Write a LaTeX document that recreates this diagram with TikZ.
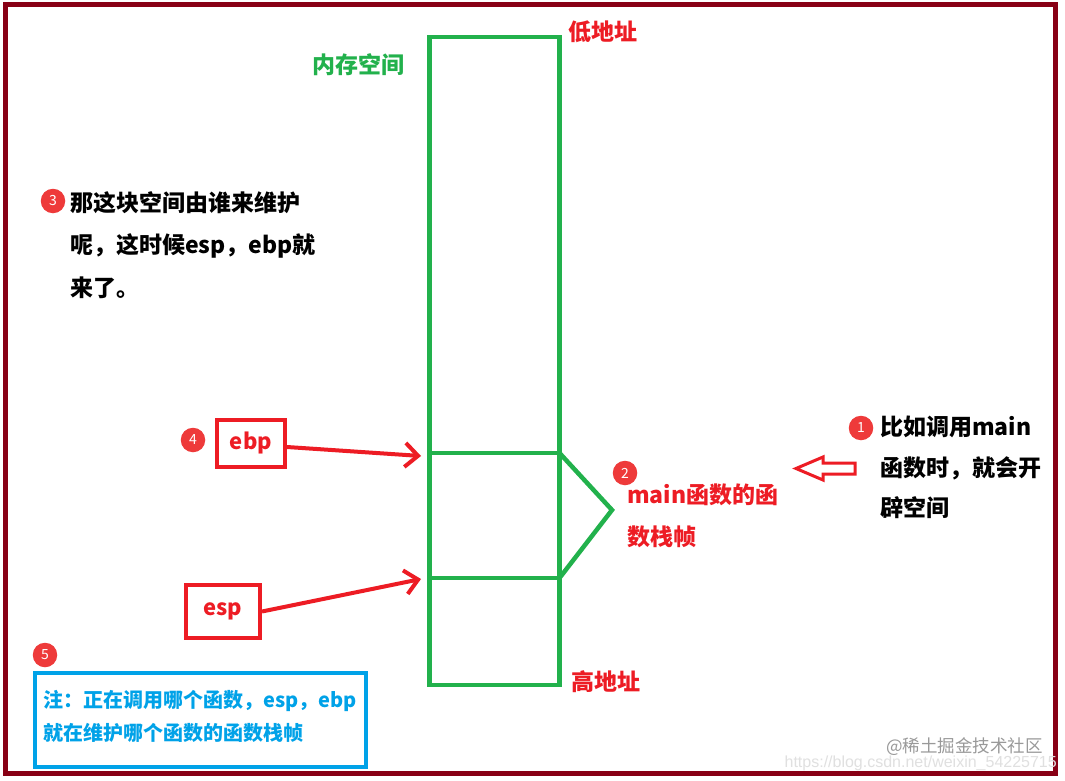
\documentclass[tikz,border=0pt]{standalone}
\usepackage{fontspec}
\newfontfamily\cjk{Noto Sans CJK SC}
\newfontfamily\wmfont{Liberation Sans}
\usetikzlibrary{arrows.meta}
\definecolor{bordercol}{RGB}{136,0,21}
\definecolor{pred}{RGB}{237,28,36}
\definecolor{pgreen}{RGB}{34,177,76}
\definecolor{pblue}{RGB}{0,162,232}
\definecolor{badgecol}{RGB}{238,58,58}
\tikzset{
  lbl/.style={font=\cjk\bfseries\fontsize{23}{27}\selectfont, inner sep=0pt, anchor=west},
  bluelbl/.style={font=\cjk\bfseries\fontsize{20}{24}\selectfont, inner sep=0pt, anchor=west, text=pblue},
  badge/.style={circle, fill=badgecol, text=white, inner sep=0pt, minimum size=24.5pt,
    font=\cjk\fontsize{14}{14}\selectfont},
  regbox/.style={draw=pred, line width=4pt, inner sep=0pt, text=pred,
    font=\cjk\bfseries\fontsize{22}{26}\selectfont},
  greenline/.style={draw=pgreen, line width=4.5pt},
  redarrow/.style={draw=pred, line width=4pt, -{Straight Barb[length=13pt,width=24pt]}},
}
\begin{document}
\begin{tikzpicture}[x=1pt,y=-1pt]
\fill[white] (0,0) rectangle (1065,781);
\useasboundingbox (0,0) rectangle (1065,781);
% outer frame
\draw[bordercol, line width=5pt] (5,4.5) rectangle (1055.5,773);

% memory column
\node[greenline, minimum width=130pt, minimum height=648pt, inner sep=0pt] (stack) at (494.5,361) {};
\coordinate (f1) at (429.5,453);
\coordinate (f2) at (559.5,453);
\coordinate (f3) at (429.5,578);
\coordinate (f4) at (559.5,578);
\coordinate (brk) at (612,510);
\draw[greenline] (f1) -- (f2);
\draw[greenline] (f3) -- (f4);
\draw[greenline] (f2) -- (brk) -- (f4);

\node[lbl, text=pgreen] (mem) at (312,65) {内存空间};
\node[lbl, text=pred] (low) at (568,32) {低地址};
\node[lbl, text=pred] (high) at (571,682) {高地址};

% note 3
\node[badge] (b3) at (53,201) {3};
\node[lbl] (t3a) at (70,203) {那这块空间由谁来维护};
\node[lbl] (t3b) at (70,246) {呢，这时候esp，ebp就};
\node[lbl] (t3c) at (70,288) {来了。};

% ebp / esp
\node[badge] (b4) at (193,440) {4};
\node[regbox, minimum width=68pt, minimum height=47pt] (ebp) at (251,443) {ebp};
\node[regbox, minimum width=74pt, minimum height=53pt] (esp) at (223,611.5) {esp};
\coordinate (ebptip) at (421,456);
\coordinate (esptip) at (421,579);
\draw[redarrow] ([yshift=-4pt]ebp.east) -- (ebptip);
\draw[redarrow] (esp.east) -- (esptip);

% note 2
\node[badge] (b2) at (625,473) {2};
\node[lbl, text=pred] (t2a) at (627,495) {main函数的函};
\node[lbl, text=pred] (t2b) at (627,537) {数栈帧};

% note 1
\node[badge] (b1) at (861,428) {1};
\node[lbl] (t1a) at (880,427) {比如调用main};
\node[lbl] (t1b) at (880,468) {函数时，就会开};
\node[lbl] (t1c) at (880,508) {辟空间};

% hollow arrow
\draw[pred, line width=3pt, line join=miter]
  (796,468.5) -- (823,457) -- (823,463) -- (855,463) -- (855,474) -- (823,474) -- (823,480) -- cycle;

% note 5
\node[badge] (b5) at (45,655) {5};
\node[draw=pblue, line width=4pt, minimum width=331.5pt, minimum height=94pt, inner sep=0pt] (note) at (200.25,720) {};
\node[bluelbl] (t5a) at (43,701) {注：正在调用哪个函数，esp，ebp};
\node[bluelbl] (t5b) at (43,733) {就在维护哪个函数的函数栈帧};

% watermarks
\node[font=\cjk\fontsize{17.5}{17.5}\selectfont, text=black!40, inner sep=0pt, anchor=east] (wm1) at (1043,747) {@稀土掘金技术社区};
\node[font=\wmfont\fontsize{16}{16}\selectfont, text=black!12, inner sep=0pt, anchor=east] (wm2) at (1057,763) {https://blog.csdn.net/weixin\_54225715};
\end{tikzpicture}
\end{document}
